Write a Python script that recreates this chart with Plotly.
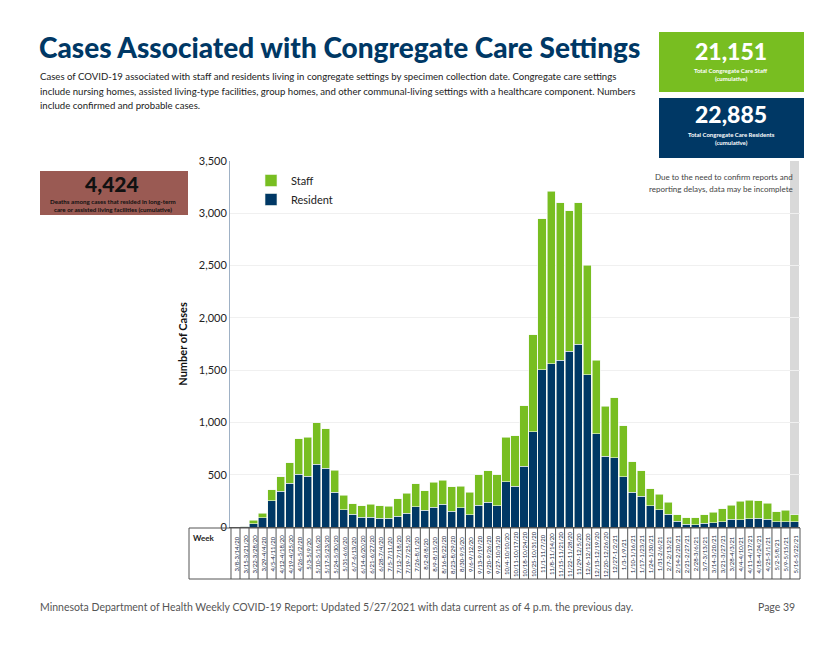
import plotly.graph_objects as go

weeks = ["3/8-3/14/20","3/15-3/21/20","3/22-3/28/20","3/29-4/4/20","4/5-4/11/20","4/12-4/18/20",
         "4/19-4/25/20","4/26-5/2/20","5/3-5/9/20","5/10-5/16/20","5/17-5/23/20","5/24-5/30/20",
         "5/31-6/6/20","6/7-6/13/20","6/14-6/20/20","6/21-6/27/20","6/28-7/4/20","7/5-7/11/20",
         "7/12-7/18/20","7/19-7/25/20","7/26-8/1/20","8/2-8/8/20","8/9-8/15/20","8/16-8/22/20",
         "8/23-8/29/20","8/30-9/5/20","9/6-9/12/20","9/13-9/19/20","9/20-9/26/20","9/27-10/3/20",
         "10/4-10/10/20","10/11-10/17/20","10/18-10/24/20","10/25-10/31/20","11/1-11/7/20",
         "11/8-11/14/20","11/15-11/21/20","11/22-11/28/20","11/29-12/5/20","12/6-12/12/20",
         "12/13-12/19/20","12/20-12/26/20","12/27-1/2/21","1/3-1/9/21","1/10-1/16/21",
         "1/17-1/23/21","1/24-1/30/21","1/31-2/6/21","2/7-2/13/21","2/14-2/20/21","2/21-2/27/21",
         "2/28-3/6/21","3/7-3/13/21","3/14-3/20/21","3/21-3/27/21","3/28-4/3/21","4/4-4/10/21",
         "4/11-4/17/21","4/18-4/24/21","4/25-5/1/21","5/2-5/8/21","5/9-5/15/21","5/16-5/22/21"]

resident = [0, 5, 29, 89, 252, 341, 418, 504, 485, 600, 564, 332, 166, 121, 92, 92, 86, 86, 102,
            131, 194, 159, 191, 217, 153, 185, 118, 207, 236, 204, 434, 389, 580, 912, 1505, 1562,
            1594, 1683, 1750, 1454, 893, 677, 660, 481, 332, 296, 201, 166, 121, 54, 26, 22, 35,
            41, 48, 73, 70, 80, 86, 73, 51, 51, 48]

staff = [0, 3, 35, 42, 102, 140, 197, 341, 373, 398, 376, 213, 140, 99, 109, 125, 115, 112, 169,
         194, 220, 188, 236, 229, 230, 204, 214, 293, 300, 296, 424, 485, 580, 927, 1441, 1648,
         1508, 1339, 1349, 1049, 704, 477, 577, 488, 290, 240, 166, 146, 115, 64, 63, 67, 83,
         99, 127, 134, 175, 175, 163, 153, 96, 108, 67]

y_ticks = [0, 500, 1000, 1500, 2000, 2500, 3000, 3500]

GREEN = "#78BE21"
NAVY = "#003865"
BROWN = "#9A5A53"
FONT = "Lato"

# the page is drawn with an 8px body offset; compensate
OX, OY = 8, 8
W, H = 840 - OX, 649 - OY
L, R, T, B = 230, 800, 161, 527   # plot area in reference pixels


def px(x):
    return (x - L) / (R - L)


def py(y):
    return (B - y) / (B - T)


fig = go.Figure()
fig.add_trace(go.Bar(x=weeks, y=resident, name="Resident", marker_color=NAVY,
                     marker_line=dict(color="#f2f7ee", width=0.6)))
fig.add_trace(go.Bar(x=weeks, y=staff, name="Staff", marker_color=GREEN,
                     marker_line=dict(color="#f2f7ee", width=0.6)))

shapes = []
# incomplete-data band
shapes.append(dict(type="rect", xref="x", yref="paper", x0=61.5, x1=62.5, y0=0, y1=1.0,
                   fillcolor="#D9D9D9", line_width=0, layer="below"))
# week table
shapes.append(dict(type="rect", xref="paper", yref="paper", x0=px(189), x1=px(800),
                   y0=py(579), y1=py(528), line=dict(color="#555555", width=1)))
for i in range(len(weeks)):
    shapes.append(dict(type="line", xref="x", yref="paper", x0=i - 0.5, x1=i - 0.5,
                       y0=py(579), y1=py(527), line=dict(color="#555555", width=1)))
# stat boxes
shapes.append(dict(type="rect", xref="paper", yref="paper", x0=px(659), x1=px(804),
                   y0=py(92), y1=py(32), fillcolor=GREEN, line_width=0))
shapes.append(dict(type="rect", xref="paper", yref="paper", x0=px(659), x1=px(804),
                   y0=py(158), y1=py(98), fillcolor=NAVY, line_width=0))
shapes.append(dict(type="rect", xref="paper", yref="paper", x0=px(40), x1=px(188),
                   y0=py(215), y1=py(171), fillcolor=BROWN, line_width=0))

ann = []


def text(x, y, s, size, color="#333333", xanchor="left", weight=None, family=FONT):
    f = dict(family=family, size=size, color=color)
    if weight:
        f["weight"] = weight
    ann.append(dict(xref="paper", yref="paper", x=px(x), y=py(y), text=s, showarrow=False,
                    xanchor=xanchor, yanchor="middle", font=f))


text(37, 47, "Cases Associated with Congregate Care Settings", 28, NAVY, weight=900)
text(38, 77, "Cases of COVID-19 associated with staff and residents living in congregate settings by specimen collection date. Congregate care settings", 9.6, "#222222")
text(38, 91, "include nursing homes, assisted living-type facilities, group homes, and other communal-living settings with a healthcare component. Numbers", 9.6, "#222222")
text(38, 105, "include confirmed and probable cases.", 9.6, "#222222")

text(731, 51, "21,151", 23, "white", "center", weight=900)
text(731, 71, "Total Congregate Care Staff", 6, "white", "center", weight=700)
text(731, 79, "(cumulative)", 6, "white", "center", weight=700)
text(731, 114, "22,885", 23, "white", "center", weight=900)
text(731, 135, "Total Congregate Care Residents", 6, "white", "center", weight=700)
text(731, 143, "(cumulative)", 6, "white", "center", weight=700)

text(112, 183.5, "4,424", 21, "#111111", "center", weight=900)
text(113, 201.5, "Deaths among cases that resided in long-term", 6.2, "#111111", "center", weight=700)
text(113, 209, "care or assisted living facilities (cumulative)", 6.2, "#111111", "center", weight=700)

text(795, 177, "Due to the need to confirm reports and", 8, "#444444", "right")
text(795, 189, "reporting delays, data may be incomplete", 8, "#444444", "right")

text(191, 538, "Week", 8, "#222222", weight=700)

text(38, 607, "Minnesota Department of Health Weekly COVID-19 Report: Updated 5/27/2021 with data current as of 4 p.m. the previous day.", 10.5, "#555555")
text(797, 607, "Page 39", 10.5, "#555555", "right")

# week labels centred in table cells
for w in weeks:
    ann.append(dict(xref="x", yref="paper", x=w, y=py(554), text=w, textangle=-90,
                    showarrow=False, xanchor="center", yanchor="middle",
                    font=dict(family=FONT, size=6, color="#1a2a44")))

fig.update_layout(
    width=W, height=H,
    margin=dict(l=L - OX, r=W - (R - OX), t=T - OY, b=H - (B - OY)),
    paper_bgcolor="white", plot_bgcolor="white",
    barmode="stack", bargap=0.1,
    font=dict(family=FONT, color="#333333"),
    shapes=shapes, annotations=ann,
    legend=dict(x=px(251), y=py(166), xanchor="left", yanchor="top", traceorder="reversed",
                font=dict(family=FONT, size=11, color="#222222"), bgcolor="rgba(0,0,0,0)",
                itemwidth=30),
)
fig.update_xaxes(type="category", showticklabels=False, ticks="",
                 showline=True, linecolor="#555555", linewidth=1, showgrid=False)
fig.update_yaxes(range=[0, 3500], tickvals=y_ticks, tickformat=",", showgrid=True,
                 gridcolor="#F0F0F0", gridwidth=1, showline=True, linecolor="#9FB1C5",
                 linewidth=1, ticks="", tickfont=dict(family=FONT, size=11, color="#222222"),
                 title=dict(text="<b>Number of Cases</b>", font=dict(family=FONT, size=11, color="#111111"),
                            standoff=8),
                 zeroline=False)

fig.write_html("out.html")
